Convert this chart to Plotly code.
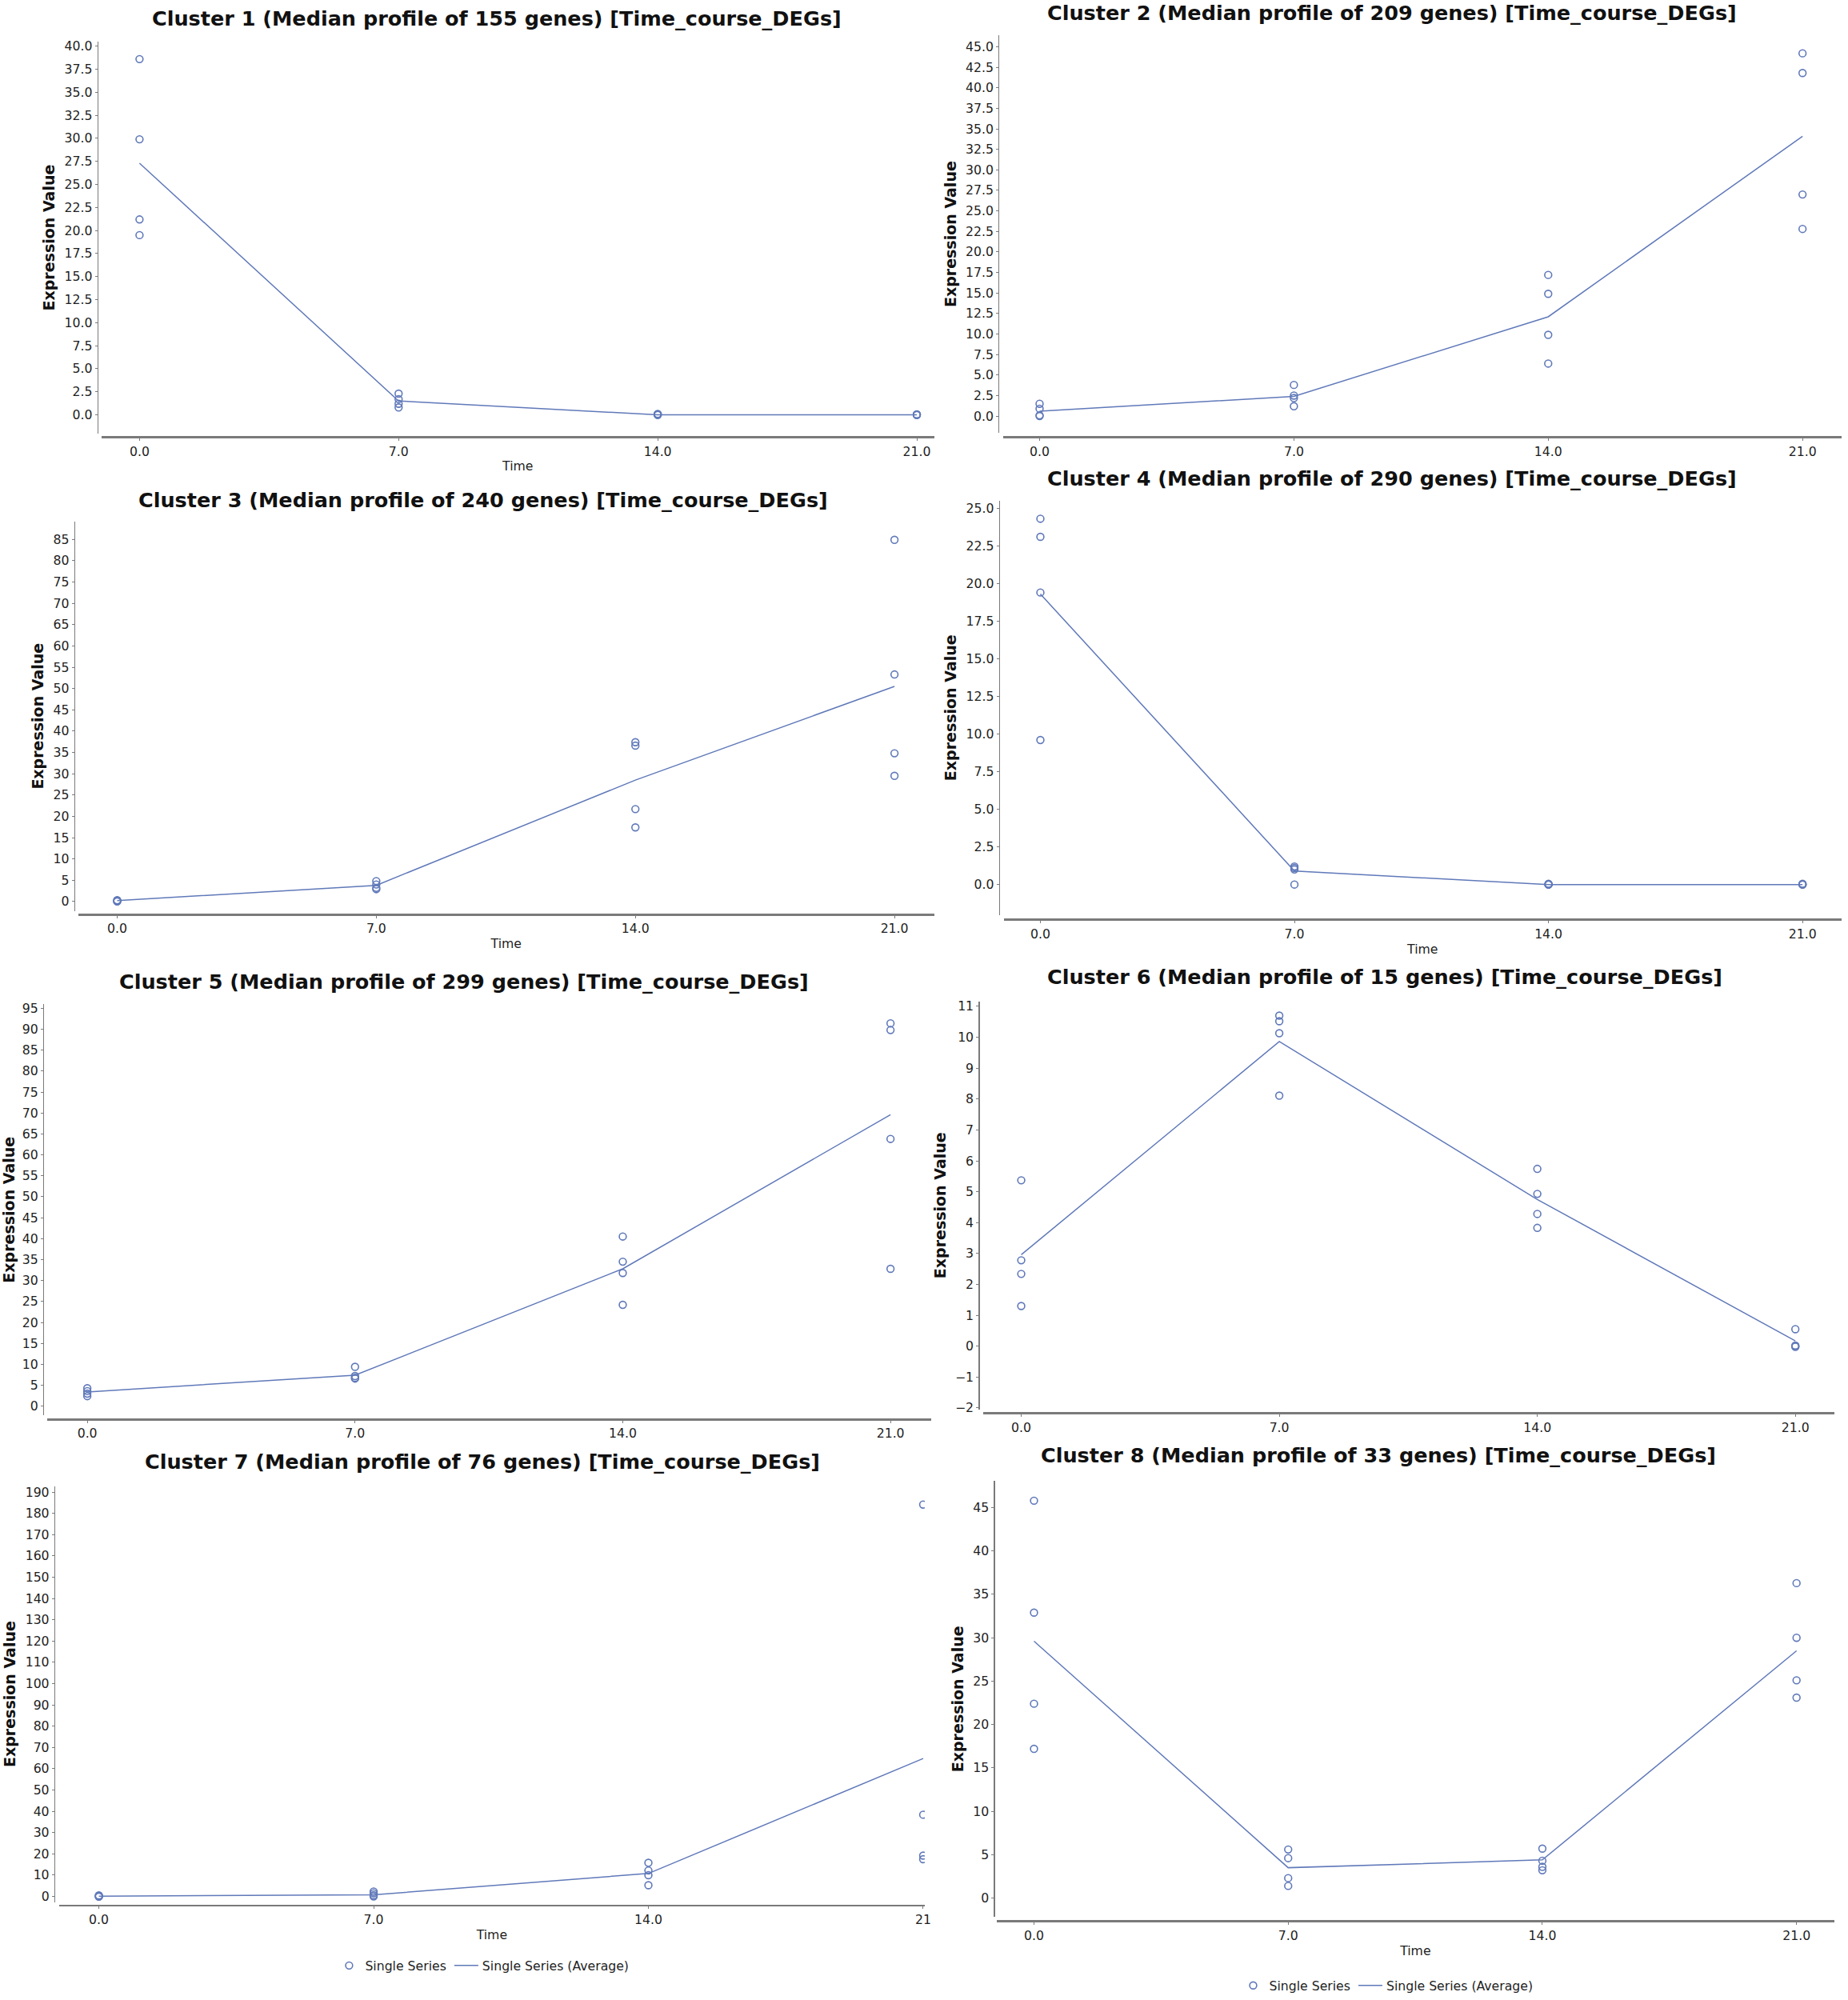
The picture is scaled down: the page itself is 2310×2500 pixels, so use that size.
import plotly.graph_objects as go

W, H = 2310, 2500

# ---------------- data ----------------
time_points = [0, 7, 14, 21]
time_labels = ["0.0", "7.0", "14.0", "21.0"]
cluster_ids = [1, 2, 3, 4, 5, 6, 7, 8]
gene_counts = [155, 209, 240, 290, 299, 15, 76, 33]

# replicate values per time point (0, 7, 14, 21 days)
c1_points = [[38.6, 29.9, 21.2, 19.5], [2.3, 1.7, 1.2, 0.8], [0.1, 0.05, 0.0, 0.0], [0.05, 0.0, 0.0, 0.0]]
c1_median = [27.3, 1.5, 0.0, 0.0]

c2_points = [[1.5, 0.9, 0.1, 0.0], [3.8, 2.5, 2.2, 1.2], [17.2, 14.9, 9.9, 6.4], [44.2, 41.8, 27.0, 22.8]]
c2_median = [0.6, 2.4, 12.1, 34.1]

c3_points = [[0.3, 0.2, 0.1, 0.0], [4.8, 4.0, 3.2, 2.9], [37.4, 36.6, 21.7, 17.4], [84.9, 53.3, 34.8, 29.5]]
c3_median = [0.2, 3.8, 28.5, 50.5]

c4_points = [[24.3, 23.1, 19.4, 9.6], [1.2, 1.1, 1.0, 0.0], [0.05, 0.0, 0.0, 0.0], [0.05, 0.0, 0.0, 0.0]]
c4_median = [19.3, 0.9, 0.0, 0.0]

c5_points = [[4.3, 3.6, 3.0, 2.4], [9.4, 7.2, 6.8, 6.6], [40.5, 34.5, 31.8, 24.2], [91.4, 89.8, 63.8, 32.8]]
c5_median = [3.4, 7.4, 32.8, 69.6]

c6_points = [[5.37, 2.78, 2.34, 1.30], [10.70, 10.52, 10.13, 8.11], [5.74, 4.93, 4.28, 3.83], [0.55, 0.02, 0.0, -0.02]]
c6_median = [2.96, 9.86, 4.75, 0.17]

c7_points = [[0.5, 0.2, 0.0, -0.1], [2.3, 1.5, 0.6, 0.0], [15.8, 12.2, 10.0, 5.3], [184.1, 38.4, 19.2, 17.5]]
c7_median = [0.1, 0.8, 10.8, 64.8]

c8_points = [[45.8, 32.9, 22.4, 17.2], [5.6, 4.6, 2.3, 1.4], [5.7, 4.3, 3.6, 3.2], [36.3, 30.0, 25.1, 23.1]]
c8_median = [29.6, 3.5, 4.4, 28.5]

all_points = [c1_points, c2_points, c3_points, c4_points, c5_points, c6_points, c7_points, c8_points]
all_medians = [c1_median, c2_median, c3_median, c4_median, c5_median, c6_median, c7_median, c8_median]

series_name = "Single Series"
avg_name = "Single Series (Average)"
y_title = "Expression Value"
x_title = "Time"

# ---------------- panel geometry (pixels in the 2310x2500 page) ----------------
# yx: y-axis line x; yt/yb: y-axis line top/bottom; (p0,v0),(p1,v1): two y reference ticks;
# x0/x21: pixel of time 0 and 21; xy: x-axis line y; xl/xr: x-axis line extent; t: title centre
geom = [
    dict(yx=122, yt=48, yb=541, p0=517, v0=0, p1=54, v1=40, x0=175, x21=1150, xy=545, xl=127, xr=1172,
         t=(623, 19), dtick=2.5, fmt=".1f", time=True),
    dict(yx=1252.5, yt=40, yb=540, p0=518.6, v0=0, p1=54.7, v1=45, x0=1304, x21=2261, xy=545, xl=1258, xr=2310,
         t=(1746, 12), dtick=2.5, fmt=".1f", time=False),
    dict(yx=93, yt=651, yb=1140, p0=1128.3, v0=0, p1=673.5, v1=85, x0=147, x21=1122, xy=1144.5, xl=98, xr=1172,
         t=(606, 624), dtick=5, fmt="d", time=True),
    dict(yx=1253, yt=625, yb=1145, p0=1107, v0=0, p1=634.3, v1=25, x0=1305, x21=2261, xy=1151, xl=1259, xr=2310,
         t=(1746, 597), dtick=2.5, fmt=".1f", time=True),
    dict(yx=54, yt=1257, yb=1774, p0=1762.2, v0=0, p1=1262.4, v1=95, x0=109.5, x21=1117, xy=1778.6, xl=59, xr=1168,
         t=(582, 1229), dtick=5, fmt="d", time=False),
    dict(yx=1227.5, yt=1254, yb=1766, p0=1686.8, v0=0, p1=1260, v1=11, x0=1281, x21=2252, xy=1771, xl=1233, xr=2301,
         t=(1737, 1223), dtick=1, fmt="d", time=False),
    dict(yx=68, yt=1862.5, yb=2385, p0=2378, v0=0, p1=1870, v1=190, x0=124, x21=1158, xy=2389, xl=74, xr=1160,
         t=(605, 1832), dtick=10, fmt="d", time=True, legend=(606, 2465)),
    dict(yx=1246.6, yt=1856, yb=2404, p0=2380, v0=0, p1=1889.6, v1=45, x0=1297, x21=2253.5, xy=2409, xl=1250, xr=2301,
         t=(1729, 1824), dtick=5, fmt="d", time=True, legend=(1740, 2490)),
]

COLOR = "#6079b9"
AXIS = "#7a7a7a"
SANS = "DejaVu Sans, Verdana, sans-serif"
TXT = "#1e1e1e"
TICK_SIZE = 15.7


def fx(px):
    return px / W


def fy(py):
    return 1 - py / H


fig = go.Figure()
layout = dict(
    width=W, height=H, margin=dict(l=0, r=0, t=0, b=0),
    paper_bgcolor="white", plot_bgcolor="white",
    font=dict(family=SANS, size=TICK_SIZE, color=TXT),
    annotations=[],
)

legend_keys = ["legend", "legend2"]
legend_count = 0

for i, g in enumerate(geom):
    n = i + 1
    xa = "x" if n == 1 else f"x{n}"
    ya = "y" if n == 1 else f"y{n}"
    pts = all_points[i]
    xs, ys = [], []
    for t, vals in zip(time_points, pts):
        for v in vals:
            xs.append(t)
            ys.append(v)

    leg = None
    if "legend" in g:
        leg = legend_keys[legend_count]
        legend_count += 1

    fig.add_trace(go.Scatter(
        x=xs, y=ys, mode="markers", xaxis=xa, yaxis=ya, name=series_name,
        marker=dict(symbol="circle-open", size=8.8, color=COLOR, line=dict(width=1.6, color=COLOR)),
        showlegend=leg is not None, legend=leg if leg else "legend",
    ))
    fig.add_trace(go.Scatter(
        x=time_points, y=all_medians[i], mode="lines", xaxis=xa, yaxis=ya, name=avg_name,
        line=dict(color=COLOR, width=1.5),
        showlegend=leg is not None, legend=leg if leg else "legend",
    ))

    # x range from pixel calibration
    kx = (g["x21"] - g["x0"]) / 21.0
    xmin = 0 - (g["x0"] - g["xl"]) / kx
    xmax = 21 + (g["xr"] - g["x21"]) / kx
    # y range from pixel calibration
    ky = (g["p0"] - g["p1"]) / (g["v1"] - g["v0"])
    ymin = g["v0"] - (g["yb"] - g["p0"]) / ky
    ymax = g["v0"] + (g["p0"] - g["yt"]) / ky

    ticktext = list(time_labels)
    if n == 7:
        ticktext[-1] = "21"

    xkey = "xaxis" if n == 1 else f"xaxis{n}"
    ykey = "yaxis" if n == 1 else f"yaxis{n}"
    layout[xkey] = dict(
        domain=[fx(g["xl"]), fx(g["xr"])], anchor="free", position=fy(g["xy"]),
        range=[xmin, xmax], tickmode="array", tickvals=time_points, ticktext=ticktext,
        showline=True, linecolor=AXIS, linewidth=2.5, ticks="outside", ticklen=3, tickcolor=AXIS,
        showgrid=False, zeroline=False, tickfont=dict(family=SANS, size=TICK_SIZE, color=TXT),
        title=dict(text=x_title if g["time"] else "", standoff=4,
                   font=dict(family=SANS, size=TICK_SIZE, color=TXT)),
    )
    layout[ykey] = dict(
        domain=[fy(g["yb"]), fy(g["yt"])], anchor="free", position=fx(g["yx"]),
        range=[ymin, ymax], tickmode="linear", tick0=0, dtick=g["dtick"], tickformat=g["fmt"],
        showline=True, linecolor=AXIS, linewidth=1.3, ticks="outside", ticklen=3, tickcolor=AXIS,
        showgrid=False, zeroline=False, tickfont=dict(family=SANS, size=TICK_SIZE, color=TXT),
        title=dict(text=y_title, standoff=5, font=dict(family=SANS, size=19, color="#111111", weight="bold")),
    )

    layout["annotations"].append(dict(
        text=f"<b>Cluster {cluster_ids[i]} (Median profile of {gene_counts[i]} genes) [Time_course_DEGs]</b>",
        x=fx(g["t"][0]), y=fy(g["t"][1]), xref="paper", yref="paper",
        xanchor="center", yanchor="middle", showarrow=False,
        font=dict(family=SANS, size=25.5, color="#111111"),
    ))

    if leg:
        layout[leg] = dict(
            orientation="h", x=fx(g["legend"][0]), y=fy(g["legend"][1]),
            xanchor="center", yanchor="middle", bgcolor="rgba(0,0,0,0)",
            font=dict(family=SANS, size=TICK_SIZE, color=TXT), itemwidth=30, tracegroupgap=0,
        )

fig.update_layout(**layout)
fig.write_html(
    "out.html",
    config={"displayModeBar": False, "staticPlot": True},
    post_script="document.body.style.margin='0';document.body.style.overflow='hidden';",
)
